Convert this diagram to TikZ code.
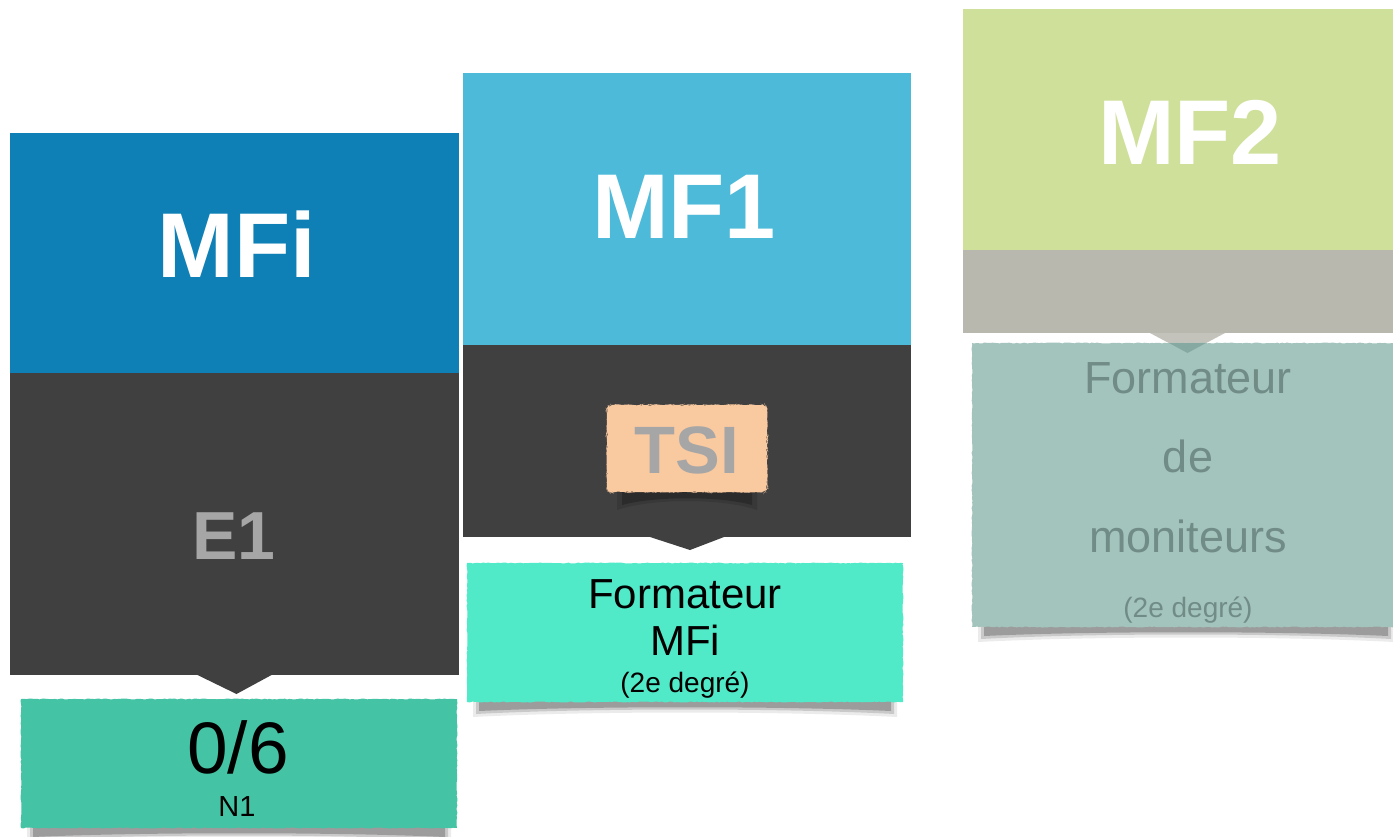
\documentclass[tikz,border=0pt]{standalone}
\usepackage{fontspec}
\setmainfont{Liberation Sans}
\usetikzlibrary{decorations.pathmorphing}
\definecolor{mfiblue}{HTML}{0F80B6}
\definecolor{mfoneblue}{HTML}{4DBAD9}
\definecolor{mftwogreen}{HTML}{CFE09B}
\definecolor{darkpanel}{HTML}{404040}
\definecolor{graypanel}{HTML}{B8B8AF}
\definecolor{boxone}{HTML}{45C3A5}
\definecolor{boxtwo}{HTML}{50EAC8}
\definecolor{boxthree}{HTML}{A3C4BC}
\definecolor{tsicol}{HTML}{F9C9A0}
\definecolor{textgray}{HTML}{A6A6A6}
\definecolor{boxthreetext}{HTML}{718C86}
\definecolor{trithree}{HTML}{86AAA2}
\newcommand\curlshadow[3]{%
  \fill[black,opacity=0.08] (#1+6,#3-6) -- (#2-6,#3-6) -- (#2-6,#3+15) .. controls (#2-120,#3+9) and (#1+120,#3+9) .. (#1+6,#3+15) -- cycle;
  \fill[black,opacity=0.14] (#1+9,#3-6) -- (#2-9,#3-6) -- (#2-9,#3+12) .. controls (#2-120,#3+6) and (#1+120,#3+6) .. (#1+9,#3+12) -- cycle;
  \fill[black,opacity=0.22] (#1+12,#3-5) -- (#2-12,#3-5) -- (#2-12,#3+9) .. controls (#2-120,#3+4) and (#1+120,#3+4) .. (#1+12,#3+9) -- cycle;
}
\begin{document}
\begin{tikzpicture}[x=1pt,y=-1pt,
  panel/.style={rectangle, inner sep=0pt, outer sep=0pt, draw=none},
  rough/.style={decorate, decoration={random steps, segment length=2.5pt, amplitude=0.5pt}},
  lbl/.style={anchor=base, inner sep=0pt},
  title/.style={lbl, text=white, font=\fontsize{92pt}{92pt}\selectfont\bfseries},
  sub/.style={lbl, text=textgray, font=\bfseries},
]
\useasboundingbox (0,0) rectangle (1393,836);
\fill[white] (0,0) rectangle (1393,836);

% ---------- Column 1 : MFi ----------
\node[panel, fill=mfiblue, minimum width=449pt, minimum height=240pt] (mfitop) at (234.5,253) {};
\node[panel, fill=darkpanel, minimum width=449pt, minimum height=302pt] (mfidark) at (234.5,524) {};
\fill[darkpanel] ([xshift=-37pt]mfidark.south) -- ([xshift=37pt]mfidark.south) -- ([xshift=2pt,yshift=-19pt]mfidark.south) -- cycle;
\node[title] (mfititle) at (237,277) {MFi};
\node[sub, font=\fontsize{68pt}{68pt}\selectfont\bfseries] (eone) at (234,559) {E1};
\curlshadow{21}{457}{828}
\node[panel, fill=boxone, rough, minimum width=436pt, minimum height=129pt] (boxa) at (239,763.5) {};
\node[lbl, font=\fontsize{73pt}{73pt}\selectfont] (score) at (238,773) {0/6};
\node[lbl, font=\fontsize{29pt}{29pt}\selectfont] (nlevel) at (237,816) {N1};

% ---------- Column 2 : MF1 ----------
\node[panel, fill=mfoneblue, minimum width=448pt, minimum height=272pt] (mfonetop) at (687,209) {};
\node[panel, fill=darkpanel, minimum width=448pt, minimum height=192pt] (mfonedark) at (687,441) {};
\fill[darkpanel] ([xshift=-37pt]mfonedark.south) -- ([xshift=37pt]mfonedark.south) -- ([xshift=3pt,yshift=-13pt]mfonedark.south) -- cycle;
\node[title] (mfonetitle) at (684,238) {MF1};
\fill[black,opacity=0.12] (617,483) -- (757,483) -- (757,510) .. controls (722,498) and (652,498) .. (617,510) -- cycle;
\fill[black,opacity=0.22] (622,485) -- (752,485) -- (752,505) .. controls (720,496) and (655,496) .. (622,505) -- cycle;
\node[panel, fill=tsicol, rough, rounded corners=5pt, minimum width=160pt, minimum height=87pt] (tsibox) at (687,448.5) {};
\node[sub, font=\fontsize{67pt}{67pt}\selectfont\bfseries] (tsi) at (687,473) {TSI};
\curlshadow{467}{903}{702}
\node[panel, fill=boxtwo, rough, minimum width=436pt, minimum height=139pt] (boxb) at (685,632.5) {};
\node[lbl, font=\fontsize{42pt}{42pt}\selectfont] (formb) at (685,608) {Formateur};
\node[lbl, font=\fontsize{42pt}{42pt}\selectfont] (mfib) at (685,655) {MFi};
\node[lbl, font=\fontsize{28pt}{28pt}\selectfont] (degb) at (685,692) {(2e degré)};

% ---------- Column 3 : MF2 ----------
\node[panel, fill=mftwogreen, minimum width=440pt, minimum height=241pt] (mftwotop) at (1183,129.5) {};
\node[panel, fill=graypanel, minimum width=440pt, minimum height=83pt] (mftwogray) at (1183,291.5) {};
\coordinate (ptrc) at (1187.5,333);
\fill[graypanel!85!white] ([xshift=-37.5pt]ptrc) -- ([xshift=37.5pt]ptrc) -- ([yshift=-20pt]ptrc) -- cycle;
\node[title] (mftwotitle) at (1190,164) {MF2};
\curlshadow{972}{1400}{627}
\node[panel, fill=boxthree, rough, minimum width=440pt, minimum height=284pt] (boxc) at (1192,485) {};
\fill[trithree] (1169,343) -- (1206,343) -- ([yshift=-20pt]ptrc) -- cycle;
\node[lbl, text=boxthreetext, font=\fontsize{45pt}{45pt}\selectfont] (formc) at (1188,393) {Formateur};
\node[lbl, text=boxthreetext, font=\fontsize{45pt}{45pt}\selectfont] (dec) at (1188,472) {de};
\node[lbl, text=boxthreetext, font=\fontsize{45pt}{45pt}\selectfont] (monc) at (1188,552) {moniteurs};
\node[lbl, text=boxthreetext, font=\fontsize{28pt}{28pt}\selectfont] (degc) at (1188,617) {(2e degré)};
\end{tikzpicture}
\end{document}
